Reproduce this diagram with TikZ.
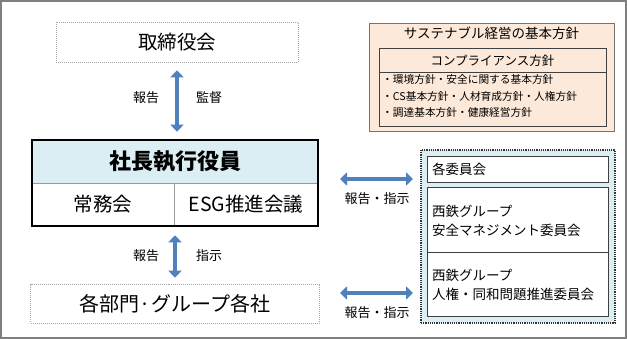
\documentclass[tikz,border=0pt]{standalone}
\usepackage{fontspec}
\setmainfont{Noto Sans CJK JP}
\usetikzlibrary{arrows.meta}
\definecolor{lblue}{HTML}{DAEEF3}
\definecolor{peach}{HTML}{FDE9D9}
\definecolor{arrblue}{HTML}{4F81BD}
\definecolor{frame}{HTML}{7F7F7F}
\tikzset{
  dotbox/.style={draw=gray!70, line width=0.6pt, dash pattern=on 1pt off 1pt, inner sep=0pt},
  cell/.style={draw=gray!80, line width=0.6pt, inner sep=0pt},
  dblarrow/.style={draw=arrblue, line width=4.5pt, {Triangle[width=13pt,length=7pt]}-{Triangle[width=13pt,length=7pt]}},
  lab/.style={font=\fontsize{13}{15}\selectfont, inner sep=0pt},
  sbox/.style={draw=black!75, line width=0.8pt, inner sep=0pt},
  ctext/.style={inner sep=0pt, anchor=west, align=left, font=\fontsize{13.5}{18.5}\selectfont},
}
\begin{document}
\begin{tikzpicture}[x=1pt,y=-1pt]
\useasboundingbox (0,0) rectangle (627,339);
\draw[frame, line width=2pt] (1,1) rectangle (626,338);

% left column
\node[dotbox, minimum width=242pt, minimum height=40pt, font=\fontsize{19.5}{22}\selectfont] (board) at (177,42) {取締役会};
\node[cell, fill=lblue, minimum width=286pt, minimum height=43pt, font=\fontsize{22}{25}\selectfont\bfseries] (pres) at (175,161.5) {社長執行役員};
\node[cell, minimum width=142pt, minimum height=43pt, font=\fontsize{19.5}{22}\selectfont] (jomu) at (103,204.5) {常務会};
\node[cell, minimum width=144pt, minimum height=43pt, font=\fontsize{19.5}{22}\selectfont] (esg) at (246,204.5) {ESG推進会議};
\draw[black, line width=1.8pt] (pres.north west) rectangle (esg.south east);
\node[dotbox, minimum width=289pt, minimum height=39pt, font=\fontsize{20}{23}\selectfont] (depts) at (175,303.5) {各部門·グループ各社};

\draw[dblarrow, shorten <=8pt, shorten >=8pt] (board.south) -- (board.south |- pres.north);
\node[lab] (l1) at (146,98) {報告};
\node[lab] (l2) at (209,98) {監督};
\draw[dblarrow, shorten <=6pt, shorten >=9pt] (depts.north) -- (depts.north |- esg.south);
\node[lab] (l3) at (146,256) {報告};
\node[lab] (l4) at (209,256) {指示};

% sustainability box
\node[sbox, draw=black!55, fill=peach, minimum width=245pt, minimum height=108pt] (sus) at (491.5,77) {};
\node[inner sep=0pt, font=\fontsize{13.5}{15}\selectfont] (sustitle) at (491.5,33.5) {サステナブル経営の基本方針};
\node[sbox, minimum width=227pt, minimum height=78pt] (comp) at (492.5,87) {};
\draw[black!75, line width=0.8pt] (comp.west |- 0,72) coordinate (cd1) -- (comp.east |- cd1);
\node[inner sep=0pt, font=\fontsize{12.5}{14}\selectfont] (comptitle) at (492.5,60.5) {コンプライアンス方針};
\node[inner sep=0pt, anchor=north west, align=left, font=\fontsize{10.7}{16.5}\selectfont] (bul) at (382,74.5) {・環境方針・安全に関する基本方針\\・CS基本方針・人材育成方針・人権方針\\・調達基本方針・健康経営方針};

% committees
\node[draw=black!80, line width=1.2pt, dash pattern=on 1.2pt off 1pt, fill=lblue, minimum width=194pt, minimum height=173pt, inner sep=0pt] (comm) at (518,236.5) {};
\node[sbox, fill=white, minimum width=181pt, minimum height=26pt] (c1) at (517.5,169) {};
\node[ctext] (c1t) at (432,169) {各委員会};
\node[sbox, fill=white, minimum width=181pt, minimum height=65pt] (c2) at (517.5,219.5) {};
\node[ctext] (c2t) at (432,221) {西鉄グループ\\安全マネジメント委員会};
\node[sbox, fill=white, minimum width=181pt, minimum height=64pt] (c3) at (517.5,284) {};
\node[ctext] (c3t) at (432,285) {西鉄グループ\\人権・同和問題推進委員会};

\coordinate (h1a) at (340,179);
\coordinate (h1b) at (413,179);
\coordinate (h2a) at (340,293);
\coordinate (h2b) at (413,293);
\draw[dblarrow] (h1a) -- (h1b);
\draw[dblarrow] (h2a) -- (h2b);
\node[lab] (l5) at (377,199) {報告・指示};
\node[lab] (l6) at (377,313) {報告・指示};
\end{tikzpicture}
\end{document}
